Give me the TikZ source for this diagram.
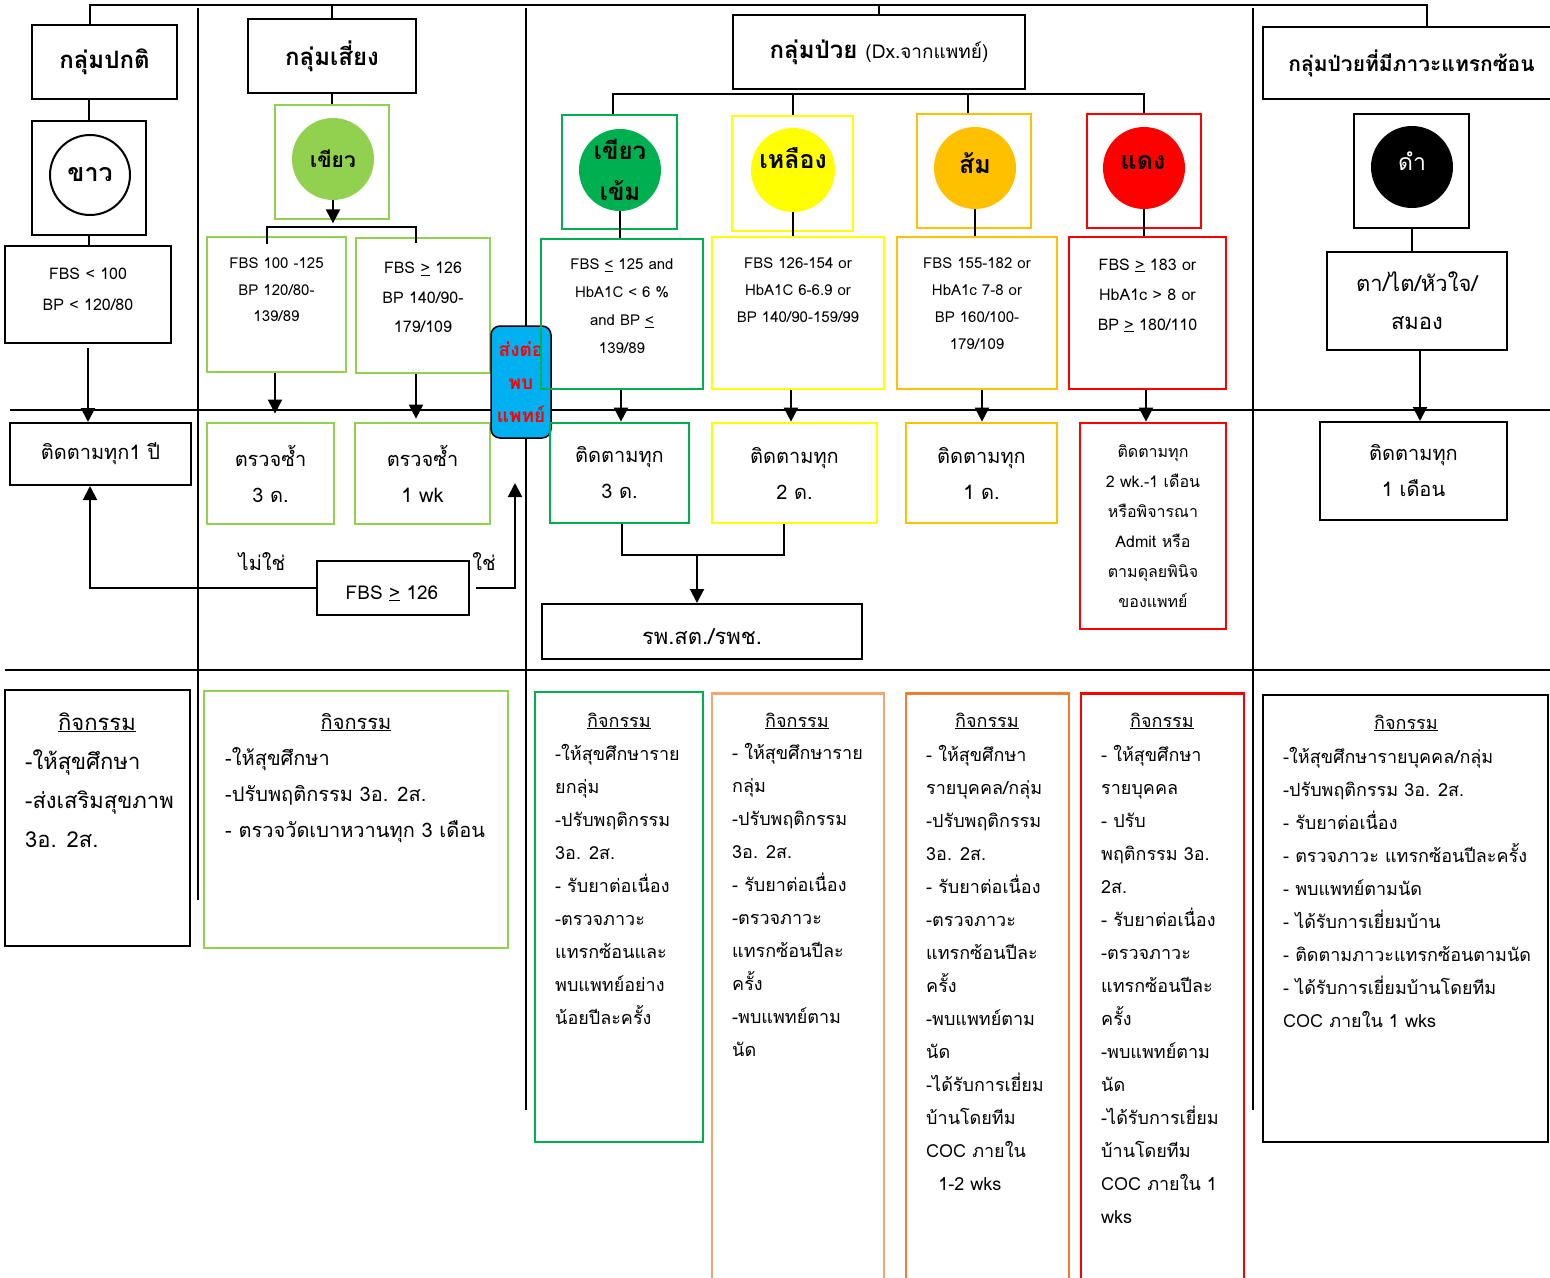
\documentclass[tikz,border=0pt]{standalone}
\usepackage{fontspec}
\setmainfont[Script=Thai]{Loma}
\usetikzlibrary{arrows.meta,calc}
\definecolor{lgreen}{HTML}{92D050}
\definecolor{dgreen}{HTML}{00B050}
\definecolor{yel}{HTML}{FFFF00}
\definecolor{org}{HTML}{FFC000}
\definecolor{rd}{HTML}{FF0000}
\definecolor{cyanb}{HTML}{00B0F0}
\definecolor{peach}{HTML}{F4A672}
\definecolor{dorg}{HTML}{ED7D31}
\newcommand\fs[2]{\fontsize{#1}{#2}\selectfont}
\begin{document}
\begin{tikzpicture}[x=1pt,y=-1pt,
  every node/.style={inner sep=0pt},
  sz/.style 2 args={minimum width=#1,minimum height=#2},
  bx/.style={draw=black,line width=2pt,align=center},
  cbx/.style={draw=#1,line width=2.7pt,align=center},
  circ/.style={circle,fill=#1,minimum size=82pt},
  ln/.style={line width=2pt},
  arr/.style={line width=2pt,-{Triangle[width=14pt,length=14pt]}},
  txt/.style={align=center,anchor=base},
  lst/.style={align=left,anchor=base west},
  ttl/.style={anchor=base}
]
\useasboundingbox (0,0) rectangle (1550,1277);
\clip (0,0) rectangle (1550,1277);
\fill[white] (0,0) rectangle (1550,1277);

% column and row separators
\draw[ln] (198,8) -- (198,900);
\draw[ln] (526,8) -- (526,1110);
\draw[ln] (1253,8) -- (1253,1110);
\draw[ln] (10,410) -- (1550,410);
\draw[ln] (5,670) -- (1550,670);

% helper x positions
\coordinate (xN) at (88,0);
\coordinate (xRa) at (275,0);
\coordinate (xRb) at (416,0);
\coordinate (xDG) at (621,0);
\coordinate (xY) at (791,0);
\coordinate (xO) at (982,0);
\coordinate (xR) at (1146,0);
\coordinate (xM) at (1420,0);

% headers
\node[bx,sz={145}{74},font=\fs{24}{28}\bfseries] (hNorm) at (104.5,62) {กลุ่มปกติ};
\node[bx,sz={168}{74},font=\fs{24}{28}\bfseries] (hRisk) at (332,56) {กลุ่มเสี่ยง};
\node[bx,sz={292}{74}] (hSick) at (879,52) {\fs{24}{28}\bfseries กลุ่มป่วย \fs{19}{24}\mdseries(Dx.จากแพทย์)};
\node[bx,sz={297}{72},font=\fs{21}{26}\bfseries] (hComp) at (1411.5,63) {กลุ่มป่วยที่มีภาวะแทรกซ้อน};

\coordinate (tL) at (90,5);
\coordinate (tR) at (1427,5);
\draw[ln] (hNorm.north -| tL) -- (tL) -- (tR) -- (hComp.north -| tR);
\draw[ln] (hRisk.north) -- (hRisk.north |- tL);
\draw[ln] (hSick.north) -- (hSick.north |- tL);

% ---- column 1: normal
\node[bx,sz={114}{114}] (sqNorm) at (89,178) {};
\node[circle,draw=black,line width=2pt,minimum size=80pt,font=\fs{25}{28}\bfseries] (cNorm) at (90,175) {ขาว};
\draw[ln] (hNorm.south -| sqNorm) -- (sqNorm.north);
\node[bx,sz={166}{97}] (fbsNorm) at (88,294.5) {};
\node[txt,font=\fs{16}{31}] at (88,310) {FBS < 100\\BP < 120/80};
\draw[ln] (sqNorm.south) -- (sqNorm.south |- fbsNorm.north);
\node[bx,sz={181}{62},font=\fs{20}{24}] (follow1) at (100.5,454) {ติดตามทุก1 ปี};
\draw[arr] ([yshift=-4pt]fbsNorm.south -| xN) -- (follow1.north -| xN);

\node[bx,sz={152}{54}] (fbs126) at (393,588) {};
\node[ttl,font=\fs{19}{22}] at (392,599) {FBS \underline{>} 126};
\draw[arr] (fbs126.west) -| ([xshift=-10.5pt]follow1.south);
\node[font=\fs{20}{24}] (lNo) at (262,562) {ไม่ใช่};
\node[font=\fs{20}{24}] (lYes) at (484,562) {ใช่};
\coordinate (yesEnd) at (515,483);
\draw[arr] ([xshift=6pt]fbs126.east) -- (fbs126.east -| yesEnd) -- (yesEnd);

% ---- column 2: risk
\node[cbx=lgreen,sz={114}{114}] (sqRisk) at (332,162) {};
\node[circ=lgreen] (cRisk) at (333,159) {};
\node[font=\fs{21}{24}\bfseries] at (cRisk) {เขียว};
\draw[ln] (hRisk.south) -- (hRisk.south |- sqRisk.north);
\draw[arr] (cRisk.south) -- ([yshift=-3pt]cRisk.south |- sqRisk.south);
\node[cbx=lgreen,sz={139}{135}] (fbsA) at (276.5,304.5) {};
\node[txt,font=\fs{15}{26.5}] at (276.5,321.5) {FBS 100 -125\\BP 120/80-\\139/89};
\node[cbx=lgreen,sz={134}{135}] (fbsB) at (423,305.5) {};
\node[txt,font=\fs{16}{29.5}] at (423,332.5) {FBS \underline{>} 126\\BP 140/90-\\179/109};
\draw[ln] ($(fbsA.north)+(-9.5,8)$) -- ($(fbsA.north)+(-9.5,-9)$) -| ($(fbsB.north)+(-7,6)$);
\node[cbx=lgreen,sz={127}{101},font=\fs{20}{36}] (chk3) at (270.5,473.5) {ตรวจซ้ำ\\3 ด.};
\node[cbx=lgreen,sz={135}{101},font=\fs{20}{36}] (chk1) at (422.5,473.5) {ตรวจซ้ำ\\1 wk};
\draw[arr] (fbsA.south -| xRa) -- ([yshift=8pt]chk3.north -| xRa);
\draw[arr] (fbsB.south -| xRb) -- ([yshift=3pt]chk1.north -| xRb);

% refer box
\node[draw=black,line width=1.5pt,fill=cyanb,rounded corners=9pt,sz={60}{112},text=rd,align=center,font=\fs{19}{33}\bfseries] (refer) at (521,382) {ส่งต่อ\\พบ\\แพทย์};

% ---- column 3: sick
\coordinate (bk) at ($(hSick.south)+(0,4)$);
\node[cbx=dgreen,sz={115}{114}] (sqDG) at (619.5,172) {};
\node[cbx=yel,sz={121}{115}] (sqY) at (792.5,173.5) {};
\node[cbx=org,sz={114}{114}] (sqO) at (974,171) {};
\node[cbx=rd,sz={114}{114}] (sqR) at (1144,171) {};
\draw[ln] ([xshift=-6.5pt]sqDG.north) -- ([xshift=-6.5pt]sqDG.north |- bk) -- (sqR.north |- bk) -- (sqR.north);
\draw[ln] (sqY.north) -- (sqY.north |- bk);
\draw[ln] ([xshift=-6pt]sqO.north) -- ([xshift=-6pt]sqO.north |- bk);

\node[circ=dgreen] (cDG) at (620,170) {};
\node[align=center,font=\fs{24}{41}\bfseries] at (cDG) {เขียว\\เข้ม};
\node[circ=yel,minimum size=84pt] (cY) at (793,170) {};
\node[font=\fs{25}{28}\bfseries] at (793,158) {เหลือง};
\node[circ=org] (cO) at (975,168) {};
\node[font=\fs{25}{28}\bfseries] at (975,163) {ส้ม};
\node[circ=rd] (cR) at (1144,168) {};
\node[font=\fs{25}{28}\bfseries] at (1143,163) {แดง};

\node[cbx=dgreen,sz={162}{150}] (fbsDG) at (622,314) {};
\node[txt,font=\fs{15}{27.7}] at (622,353) {FBS \underline{<} 125 and\\HbA1C < 6 \%\\and BP \underline{<}\\139/89};
\node[cbx=yel,sz={172}{152}] (fbsY) at (798,313) {};
\node[txt,font=\fs{15}{27}] at (798,322) {FBS 126-154 or\\HbA1C 6-6.9 or\\BP 140/90-159/99};
\node[cbx=org,sz={160}{152}] (fbsO) at (977,313) {};
\node[txt,font=\fs{15}{27}] at (977,349) {FBS 155-182 or\\HbA1c 7-8 or\\BP 160/100-\\179/109};
\node[cbx=rd,sz={157}{152}] (fbsR) at (1147.5,313) {};
\node[txt,font=\fs{16}{30}] at (1147.5,330) {FBS \underline{>} 183 or\\HbA1c > 8 or\\BP \underline{>} 180/110};

\draw[ln] (cDG.south) -- (cDG.south |- fbsDG.north);
\draw[ln] (cY.south) -- (cY.south |- fbsY.north);
\draw[ln] (cO.south) -- (cO.south |- fbsO.north);
\draw[ln] (cR.south) -- (cR.south |- fbsR.north);

\node[cbx=dgreen,sz={139}{100},font=\fs{20}{36}] (f3) at (619.5,473) {ติดตามทุก\\3 ด.};
\node[cbx=yel,sz={165}{100},font=\fs{20}{36}] (f2) at (794.5,473) {ติดตามทุก\\2 ด.};
\node[cbx=org,sz={151}{100},font=\fs{20}{36}] (f1) at (981.5,473) {ติดตามทุก\\1 ด.};
\node[cbx=rd,sz={146}{206}] (fR) at (1153,526) {};
\node[txt,font=\fs{16}{30}] at (1153,607) {ติดตามทุก\\2 wk.-1 เดือน\\หรือพิจารณา\\Admit หรือ\\ตามดุลยพินิจ\\ของแพทย์};

\draw[arr] (fbsDG.south -| xDG) -- (f3.north -| xDG);
\draw[arr] (fbsY.south -| xY) -- (f2.north -| xY);
\draw[arr] (fbsO.south -| xO) -- (f1.north -| xO);
\draw[arr] (fbsR.south -| xR) -- (fR.north -| xR);

\coordinate (m1) at (622,555);
\coordinate (m2) at (784,555);
\coordinate (mg) at (697,555);
\draw[ln] (f3.south -| m1) -- (m1) -- (m2) -- (f2.south -| m2);
\node[bx,sz={320}{55}] (rph) at (702,631.5) {};
\node[ttl,font=\fs{22}{26}] at (702,644) {รพ.สต./รพช.};
\draw[arr] (mg) -- (rph.north -| mg);

% ---- column 4: complications
\node[bx,sz={115}{114}] (sqB) at (1411.5,171) {};
\node[circ=black] (cB) at (1412,167) {};
\node[text=white,font=\fs{23}{26}] at (1412,161) {ดำ};
\node[bx,sz={180}{98},font=\fs{22}{38}] (organ) at (1417,301) {ตา/ไต/หัวใจ/\\สมอง};
\draw[ln] (sqB.south) -- (sqB.south |- organ.north);
\node[bx,sz={187}{98},font=\fs{20}{36}] (fM) at (1413.5,471) {ติดตามทุก\\1 เดือน};
\draw[arr] (organ.south -| xM) -- (fM.north -| xM);

% ---- activities
\node[bx,sz={185}{256}] (a1) at (97.5,818) {};
\node[ttl,font=\fs{22}{39}] at (97,730) {\underline{กิจกรรม}};
\node[lst,font=\fs{22}{39}] at (25,847) {-ให้สุขศึกษา\\-ส่งเสริมสุขภาพ\\3อ. 2ส.};

\node[cbx=lgreen,sz={304}{257}] (a2) at (356,819.5) {};
\node[ttl,font=\fs{20}{36}] at (356,729) {\underline{กิจกรรม}};
\node[lst,font=\fs{20}{36}] at (225,837) {-ให้สุขศึกษา\\-ปรับพฤติกรรม 3อ. 2ส.\\- ตรวจวัดเบาหวานทุก 3 เดือน};

\node[cbx=dgreen,sz={168}{450}] (a3) at (619,917) {};
\node[ttl,font=\fs{18}{33}] at (619,727) {\underline{กิจกรรม}};
\node[lst,font=\fs{18}{33}] at (555,1024) {-ให้สุขศึกษาราย\\ยกลุ่ม\\-ปรับพฤติกรรม\\3อ. 2ส.\\- รับยาต่อเนื่อง\\-ตรวจภาวะ\\แทรกซ้อนและ\\พบแพทย์อย่าง\\น้อยปีละครั้ง};

\node[cbx=peach,sz={172}{640},anchor=north] (a4) at (798,692) {};
\node[ttl,font=\fs{18}{33}] at (797,727) {\underline{กิจกรรม}};
\node[lst,font=\fs{18}{33}] at (732,1056) {- ให้สุขศึกษาราย\\กลุ่ม\\-ปรับพฤติกรรม\\3อ. 2ส.\\- รับยาต่อเนื่อง\\-ตรวจภาวะ\\แทรกซ้อนปีละ\\ครั้ง\\-พบแพทย์ตาม\\นัด};

\node[cbx=dorg,sz={163}{640},anchor=north] (a5) at (987.5,692) {};
\node[ttl,font=\fs{18}{33}] at (987,727) {\underline{กิจกรรม}};
\node[lst,font=\fs{18}{33}] at (926,1190) {- ให้สุขศึกษา\\รายบุคคล/กลุ่ม\\-ปรับพฤติกรรม\\3อ. 2ส.\\- รับยาต่อเนื่อง\\-ตรวจภาวะ\\แทรกซ้อนปีละ\\ครั้ง\\-พบแพทย์ตาม\\นัด\\-ได้รับการเยี่ยม\\บ้านโดยทีม\\COC ภายใน\\\ \ 1-2 wks};

\node[cbx=rd,sz={163}{640},anchor=north] (a6) at (1162.5,692) {};
\node[ttl,font=\fs{18}{33}] at (1162,727) {\underline{กิจกรรม}};
\node[lst,font=\fs{18}{33}] at (1101,1223) {- ให้สุขศึกษา\\รายบุคคล\\- ปรับ\\พฤติกรรม 3อ.\\2ส.\\- รับยาต่อเนื่อง\\-ตรวจภาวะ\\แทรกซ้อนปีละ\\ครั้ง\\-พบแพทย์ตาม\\นัด\\-ได้รับการเยี่ยม\\บ้านโดยทีม\\COC ภายใน 1\\wks};

\node[bx,sz={285}{447}] (a7) at (1405.5,918.5) {};
\node[ttl,font=\fs{18}{33}] at (1406,729) {\underline{กิจกรรม}};
\node[lst,font=\fs{18}{33}] at (1283,1027) {-ให้สุขศึกษารายบุคคล/กลุ่ม\\-ปรับพฤติกรรม 3อ. 2ส.\\- รับยาต่อเนื่อง\\- ตรวจภาวะ แทรกซ้อนปีละครั้ง\\- พบแพทย์ตามนัด\\- ได้รับการเยี่ยมบ้าน\\- ติดตามภาวะแทรกซ้อนตามนัด\\- ได้รับการเยี่ยมบ้านโดยทีม\\COC ภายใน 1 wks};
\end{tikzpicture}
\end{document}
